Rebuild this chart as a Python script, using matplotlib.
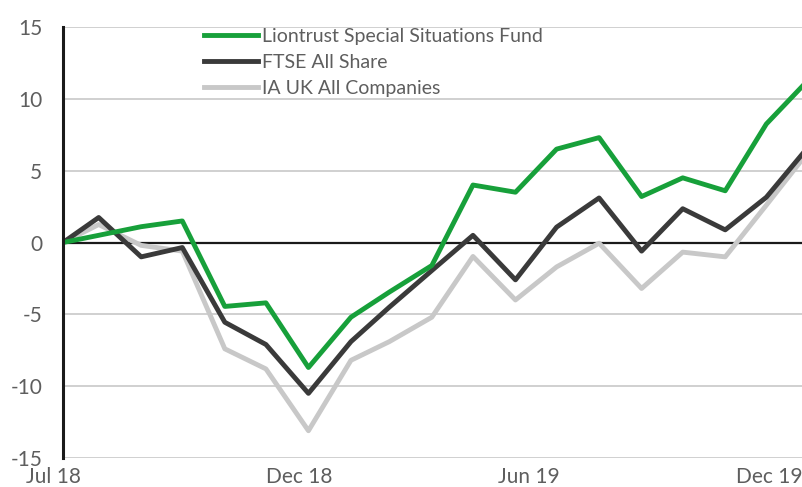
import pandas as pd
import matplotlib
matplotlib.use("Agg")
import matplotlib.pyplot as plt

# Observation dates (start, then month ends)
dates = ["2018-07-05", "2018-07-31", "2018-08-31", "2018-09-30", "2018-10-31",
         "2018-11-30", "2018-12-31", "2019-01-31", "2019-02-28", "2019-03-31",
         "2019-04-30", "2019-05-31", "2019-06-30", "2019-07-31", "2019-08-31",
         "2019-09-30", "2019-10-31", "2019-11-30", "2019-12-31"]

# Cumulative performance, %
liontrust = [0, 0.5, 1.1, 1.5, -4.45, -4.2, -8.7, -5.2, -3.45, -1.6,
             4.0, 3.5, 6.5, 7.3, 3.2, 4.5, 3.6, 8.25, 11.35]
ftse_all_share = [0, 1.74, -1.0, -0.35, -5.55, -7.1, -10.5, -6.9, -4.5, -1.95,
                  0.5, -2.6, 1.07, 3.1, -0.6, 2.35, 0.88, 3.15, 6.7]
ia_uk_all = [0, 1.25, -0.2, -0.6, -7.4, -8.8, -13.1, -8.2, -6.9, -5.2,
             -0.97, -4.0, -1.7, -0.05, -3.2, -0.67, -1.0, 2.6, 6.36]

series_names = ["Liontrust Special Situations Fund", "FTSE All Share", "IA UK All Companies"]

# x labels sit at these dates (first one is left of the axis)
tick_dates = ["2018-06-28", "2018-12-24", "2019-06-10", "2019-12-02"]
tick_labels = ["Jul 18", "Dec 18", "Jun 19", "Dec 19"]
y_ticks = [-15, -10, -5, 0, 5, 10, 15]

plt.rcParams['font.family'] = ['Lato', 'DejaVu Sans']

x = pd.to_datetime(dates)
text_color = '#5e5e5e'

fig = plt.figure(figsize=(8.02, 4.87), dpi=100)
ax = fig.add_axes([0.0786, 0.0595, 0.9214, 0.8851])

# grid lines
for yv in y_ticks:
    if yv == 0:
        ax.axhline(yv, color='#1a1a1a', linewidth=1.6, zorder=2)
    else:
        ax.axhline(yv, color='#c8c8c8', linewidth=1.2, zorder=1)

ax.plot(x, ia_uk_all, color='#c8c8c8', linewidth=3.5, label=series_names[2], zorder=3)
ax.plot(x, ftse_all_share, color='#3a3a3a', linewidth=3.5, label=series_names[1], zorder=4)
ax.plot(x, liontrust, color='#17a03a', linewidth=3.5, label=series_names[0], zorder=5)

ax.set_ylim(-15, 15)
ax.set_yticks(y_ticks)
ax.set_yticklabels([str(v) for v in y_ticks])
ax.set_xticks([])
ax.set_xlim(pd.Timestamp("2018-07-05"), pd.Timestamp("2019-12-26"))
ax.tick_params(axis='y', length=0, pad=15, labelsize=15, labelcolor=text_color)

# x labels as text so the first one can sit left of the spine
for d, lab in zip(pd.to_datetime(tick_dates), tick_labels):
    ax.text(d, -0.045, lab, transform=ax.get_xaxis_transform(), ha='center', va='center',
            fontsize=15, color=text_color, clip_on=False)

for side in ['top', 'right', 'bottom']:
    ax.spines[side].set_visible(False)
ax.spines['left'].set_linewidth(2.2)
ax.spines['left'].set_color('#1a1a1a')
ax.spines['left'].set_zorder(6)

handles, labels = ax.get_legend_handles_labels()
leg = ax.legend(handles[::-1], labels[::-1], loc='upper left', bbox_to_anchor=(0.18, 1.015),
                frameon=False, fontsize=14, handlelength=2.8, handletextpad=0.2,
                labelspacing=0.45, borderaxespad=0.0)
for t in leg.get_texts():
    t.set_color(text_color)

fig.savefig('out.png', dpi=100)
